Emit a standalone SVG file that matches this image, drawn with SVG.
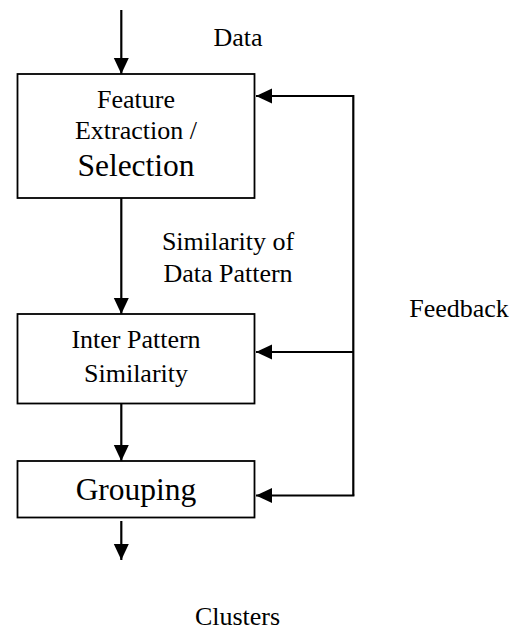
<svg xmlns="http://www.w3.org/2000/svg" width="523" height="630" viewBox="0 0 523 630">
  <style>
    .box { fill: #ffffff; stroke: #000000; stroke-width: 1.8; }
    .wire { fill: none; stroke: #000000; stroke-width: 2.2; }
    .txt { font-family: "Liberation Serif", "Times New Roman", serif; font-size: 26px; fill: #000000; text-anchor: middle; }
    .big { font-size: 31.5px; }
  </style>
  <defs>
    <marker id="head" markerUnits="userSpaceOnUse" markerWidth="17" markerHeight="16" refX="16" refY="7.5" orient="auto">
      <path d="M0,0 L16,7.5 L0,15 Z" fill="#000000"/>
    </marker>
  </defs>
  <rect width="523" height="630" fill="#ffffff"/>

  <g id="connectors">
    <!-- input -->
    <line class="wire" x1="121.3" y1="10" x2="121.3" y2="74" marker-end="url(#head)"/>
    <!-- extraction to similarity -->
    <line class="wire" x1="121.3" y1="198" x2="121.3" y2="314" marker-end="url(#head)"/>
    <!-- similarity to grouping -->
    <line class="wire" x1="121.3" y1="404" x2="121.3" y2="461" marker-end="url(#head)"/>
    <!-- output -->
    <line class="wire" x1="121.3" y1="521" x2="121.3" y2="560" marker-end="url(#head)"/>
    <!-- feedback loop -->
    <polyline class="wire" points="353.3,495.5 353.3,96 256,96" marker-end="url(#head)"/>
    <line class="wire" x1="353.3" y1="352" x2="256" y2="352" marker-end="url(#head)"/>
    <line class="wire" x1="354.4" y1="495.5" x2="256" y2="495.5" marker-end="url(#head)"/>
  </g>

  <g id="feature-extraction">
    <rect class="box" x="17.5" y="74" width="237" height="124"/>
    <text class="txt" x="136" y="108">Feature</text>
    <text class="txt" x="136" y="139">Extraction /</text>
    <text class="txt big" x="136" y="176">Selection</text>
  </g>

  <g id="inter-pattern-similarity">
    <rect class="box" x="17.5" y="314" width="237" height="89.5"/>
    <text class="txt" x="136" y="348">Inter Pattern</text>
    <text class="txt" x="136" y="382">Similarity</text>
  </g>

  <g id="grouping">
    <rect class="box" x="17.5" y="461" width="237" height="56.5"/>
    <text class="txt big" x="136" y="500">Grouping</text>
  </g>

  <g id="labels">
    <text class="txt" x="238" y="46">Data</text>
    <text class="txt" x="228" y="250">Similarity of</text>
    <text class="txt" x="228" y="282">Data Pattern</text>
    <text class="txt" x="459" y="317">Feedback</text>
    <text class="txt" x="237.5" y="625">Clusters</text>
  </g>
</svg>
